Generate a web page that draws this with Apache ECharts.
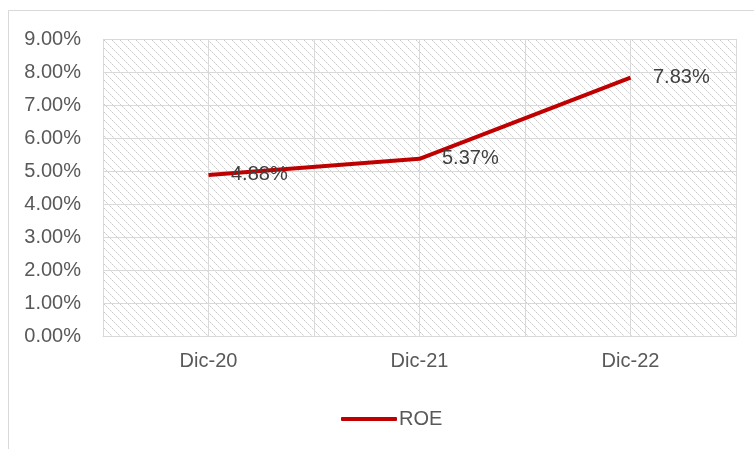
<!DOCTYPE html>
<html>
<head>
<meta charset="utf-8">
<script src="https://cdn.jsdelivr.net/npm/echarts@6/dist/echarts.min.js"></script>
<style>
  html, body { margin: 0; padding: 0; background: #ffffff; }
  #chart { width: 754px; height: 449px; }
</style>
</head>
<body>
<div id="chart"></div>
<script>
// ROE by year-end period
const categories = ['Dic-20', 'Dic-21', 'Dic-22'];
const roeValues = [4.88, 5.37, 7.83];
const seriesName = 'ROE';

// Diagonal dotted hatch used as the plot-area fill
function makeHatch() {
  const c = document.createElement('canvas');
  c.width = 8; c.height = 8;
  const ctx = c.getContext('2d');
  ctx.fillStyle = '#ffffff';
  ctx.fillRect(0, 0, 8, 8);
  for (let i = 0; i < 8; i++) {
    ctx.fillStyle = (i % 2 === 0) ? '#cacaca' : '#e2e2e2';
    ctx.fillRect(i, i, 1, 1);
  }
  return c;
}

const font = 'Liberation Sans, Arial, sans-serif';
const chart = echarts.init(document.getElementById('chart'), null, { renderer: 'canvas' });

chart.setOption({
  animation: false,
  backgroundColor: '#ffffff',
  graphic: [{
    type: 'rect',
    shape: { x: 8.5, y: 10.5, width: 800, height: 500 },
    style: { fill: 'none', stroke: '#d9d9d9', lineWidth: 1 },
    silent: true
  }],
  grid: {
    left: 103, right: 18, top: 39, bottom: 113,
    show: true,
    borderWidth: 0,
    backgroundColor: { image: makeHatch(), repeat: 'repeat' }
  },
  legend: {
    data: [{
      name: seriesName,
      icon: 'roundRect',
      itemStyle: { color: '#c00000', opacity: 1, borderWidth: 0 }
    }],
    left: 336,
    top: 404,
    itemWidth: 56,
    itemHeight: 4,
    itemGap: 4,
    textStyle: { fontFamily: font, fontSize: 20, color: '#595959', padding: [0, 0, 0, -3] }
  },
  xAxis: [{
    type: 'category',
    data: categories,
    boundaryGap: true,
    axisLine: { show: true, lineStyle: { color: '#d9d9d9', width: 1 } },
    axisTick: { show: false },
    splitLine: { show: false },
    axisLabel: { fontFamily: font, fontSize: 20, color: '#595959', margin: 15 }
  }, {
    // half-category vertical gridlines
    type: 'value',
    min: 0, max: 6, interval: 1,
    position: 'bottom',
    axisLine: { show: false },
    axisTick: { show: false },
    axisLabel: { show: false },
    splitLine: { show: true, lineStyle: { color: '#d9d9d9', width: 1 } }
  }],
  yAxis: {
    type: 'value',
    min: 0, max: 9, interval: 1,
    axisLine: { show: false },
    axisTick: { show: false },
    splitLine: { show: true, lineStyle: { color: '#d9d9d9', width: 1 } },
    axisLabel: {
      fontFamily: font, fontSize: 20, color: '#595959', margin: 22,
      formatter: v => v.toFixed(2) + '%'
    }
  },
  series: [{
    name: seriesName,
    type: 'line',
    xAxisIndex: 0,
    data: roeValues,
    symbol: 'circle',
    symbolSize: 1,
    showSymbol: true,
    itemStyle: { color: 'rgba(192,0,0,0)' },
    lineStyle: { color: '#c00000', width: 4 },
    label: {
      show: true,
      position: 'right',
      distance: 22,
      fontFamily: font,
      fontSize: 20,
      color: '#404040',
      opacity: 1,
      formatter: p => p.value.toFixed(2) + '%'
    }
  }]
});
</script>
</body>
</html>
